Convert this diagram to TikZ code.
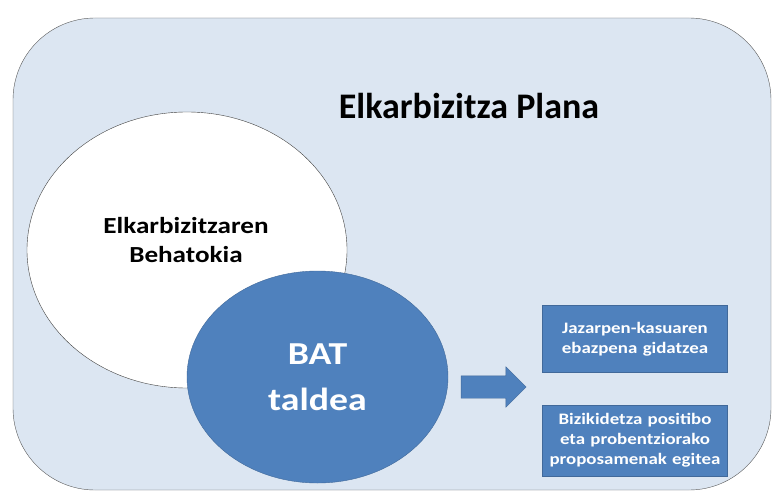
\documentclass[tikz,border=0pt]{standalone}
\usepackage{fontspec}
\setmainfont{Carlito}
\newfontfamily\widesans[FakeStretch=1.18]{Carlito}
\usepackage{tikz}
\usetikzlibrary{shapes,arrows,arrows.meta}
\usetikzlibrary{positioning}
\definecolor{planfill}{HTML}{DCE6F2}
\definecolor{batblue}{HTML}{4F81BD}
\definecolor{batline}{HTML}{41699A}
\tikzstyle{plan} = [rectangle, draw=black!65, fill=planfill, rounded corners=82pt,
    minimum width=758pt, minimum height=472pt]
\tikzstyle{observ} = [ellipse, draw=black!75, fill=white,
    minimum width=320pt, minimum height=276pt]
\tikzstyle{team} = [ellipse, draw=batline, fill=batblue, text=white, align=center,
    minimum width=261pt, minimum height=212pt,
    font=\widesans\fontsize{32}{46}\selectfont\bfseries]
\tikzstyle{task} = [rectangle, draw=batline, fill=batblue, text=white, align=center,
    text width=183pt, minimum width=184pt, inner sep=1pt,
    font=\widesans\fontsize{16}{20}\selectfont\bfseries]
\tikzstyle{bigarrow} = [single arrow, draw=batline, fill=batblue, inner sep=11pt,
    minimum height=65pt, single arrow head extend=9pt, shape border rotate=0]

\begin{document}
\begin{tikzpicture}[x=1pt,y=-1pt]
    \useasboundingbox (0,0) rectangle (773,500);
    % Place nodes
    \node[plan] (plan) at (392,254) {};
    \node[font=\fontsize{36}{40}\selectfont\bfseries] (title) at (469,106) {Elkarbizitza Plana};
    \node[observ] (behatokia) at (187,250) {};
    \node[align=center, font=\widesans\fontsize{23}{29}\selectfont\bfseries] (behatext) at (186,240)
        {Elkarbizitzaren\\Behatokia};
    \node[team] (bat) at (317.5,377) {BAT\\taldea};
    \node[bigarrow] (arrow) at (488,387) {};
    \node[task, minimum height=67pt] (guide) at (635,339) {Jazarpen-kasuaren\\ebazpena gidatzea};
    \node[task, minimum height=71pt, below=32pt of guide] (propose)
        {Bizikidetza positibo\\eta probentziorako\\proposamenak egitea};
\end{tikzpicture}
\end{document}
